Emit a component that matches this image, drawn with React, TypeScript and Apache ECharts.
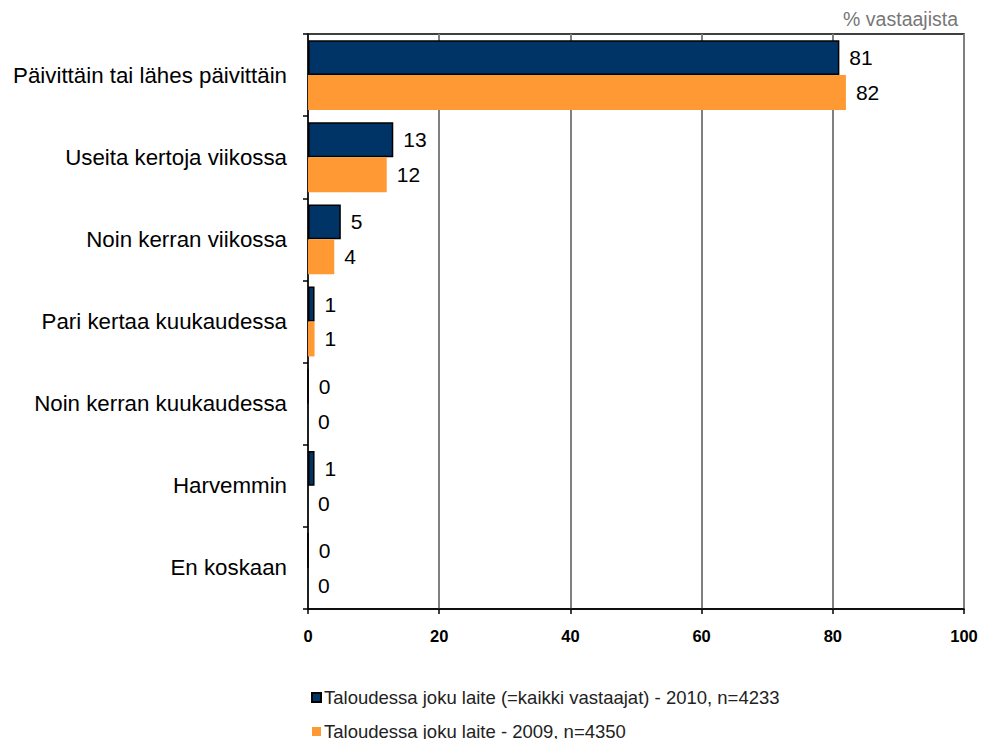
import React, { useEffect, useRef } from "react";
import * as echarts from "echarts";

const categories = [
  "Päivittäin tai lähes päivittäin",
  "Useita kertoja viikossa",
  "Noin kerran viikossa",
  "Pari kertaa kuukaudessa",
  "Noin kerran kuukaudessa",
  "Harvemmin",
  "En koskaan",
];
const series2010 = [81, 13, 5, 1, 0, 1, 0];
const series2009 = [82, 12, 4, 1, 0, 0, 0];
const seriesNames = [
  "Taloudessa joku laite (=kaikki vastaajat) - 2010, n=4233",
  "Taloudessa joku laite - 2009, n=4350",
];
const unitLabel = "% vastaajista";

const FONT = "'Liberation Sans', Arial, sans-serif";

export default function App() {
  const ref = useRef<HTMLDivElement>(null);
  useEffect(() => {
    if (!ref.current) return;
    const chart = echarts.init(ref.current, undefined, { renderer: "svg" });
    const labelStyle = {
      show: true,
      position: "right" as const,
      distance: 10,
      fontSize: 21,
      fontFamily: FONT,
      color: "#000",
    };
    chart.setOption({
      animation: false,
      backgroundColor: "#fff",
      textStyle: { fontFamily: FONT },
      title: {
        text: unitLabel,
        right: 23,
        top: 4,
        textStyle: { fontSize: 19.5, fontWeight: "normal", color: "#777", fontFamily: FONT },
      },
      grid: {
        left: 308,
        right: 22,
        top: 34,
        bottom: 138,
        show: true,
        borderColor: "#000",
        borderWidth: 1.5,
        backgroundColor: "transparent",
      },
      legend: {
        orient: "vertical",
        left: 311,
        top: 688,
        height: 60,
        padding: 0,
        itemWidth: 9,
        itemHeight: 9,
        itemGap: 15,
        icon: "rect",
        textStyle: { fontSize: 18.5, color: "#222", fontFamily: FONT, padding: [0, 0, 0, -2] },
        data: seriesNames,
      },
      xAxis: {
        type: "value",
        min: 0,
        max: 100,
        interval: 20,
        axisLine: { show: true, lineStyle: { color: "#000", width: 1.5 } },
        axisTick: { show: true, length: 5, lineStyle: { color: "#000", width: 1.5 } },
        axisLabel: { fontSize: 16.5, fontWeight: "bold", color: "#000", margin: 18, fontFamily: FONT },
        splitLine: { show: true, lineStyle: { color: "#808080", width: 2 } },
      },
      yAxis: {
        type: "category",
        data: categories,
        inverse: true,
        axisLine: { show: true, lineStyle: { color: "#000", width: 1.5 } },
        axisTick: { show: true, length: 5, lineStyle: { color: "#000", width: 1.5 } },
        axisLabel: { fontSize: 22.3, color: "#000", margin: 21, fontFamily: FONT },
      },
      series: [
        {
          name: seriesNames[0],
          type: "bar",
          data: series2010,
          barGap: "0%",
          barCategoryGap: "15%",
          itemStyle: { color: "#003366", borderColor: "#000", borderWidth: 1.5 },
          label: labelStyle,
        },
        {
          name: seriesNames[1],
          type: "bar",
          data: series2009,
          barGap: "0%",
          barCategoryGap: "15%",
          itemStyle: { color: "#FF9933" },
          label: labelStyle,
        },
      ],
    });
    return () => chart.dispose();
  }, []);
  return <div ref={ref} style={{ width: 986, height: 747, margin: -8 }} />;
}
